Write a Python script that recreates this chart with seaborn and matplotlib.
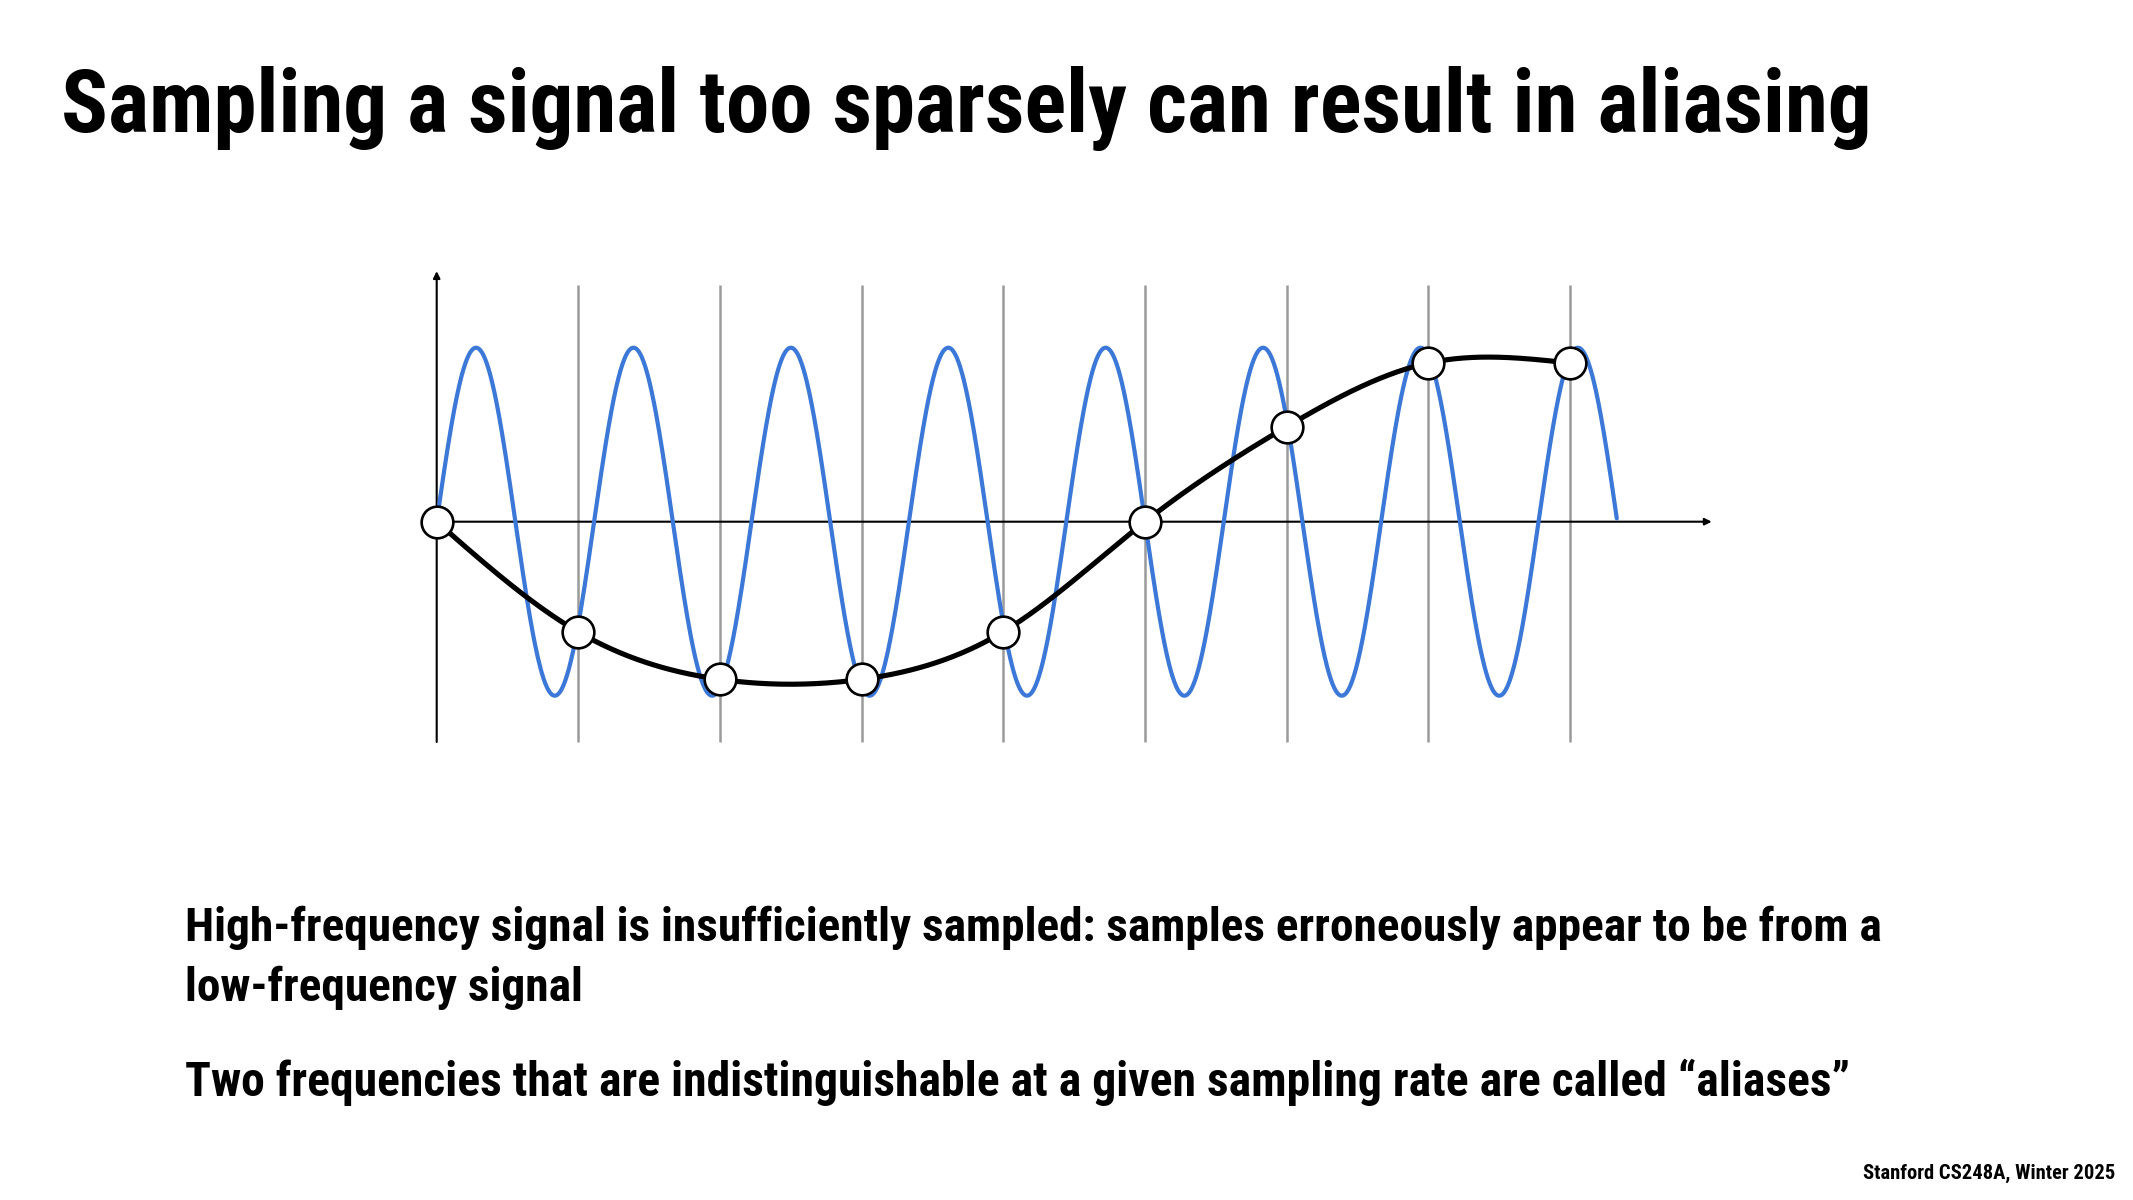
import numpy as np
import pandas as pd
import matplotlib
matplotlib.use("Agg")
import matplotlib.pyplot as plt
import seaborn as sns
from matplotlib import font_manager

# ---------------- data ----------------
TITLE = "Sampling a signal too sparsely can result in aliasing"
BODY_LINE_1 = "High-frequency signal is insufficiently sampled: samples erroneously appear to be from a"
BODY_LINE_2 = "low-frequency signal"
BODY_LINE_3 = "Two frequencies that are indistinguishable at a given sampling rate are called \u201caliases\u201d"
FOOTER = "Stanford CS248A, Winter 2025"

sample_index = [0, 1, 2, 3, 4, 5, 6, 7, 8]
sample_value = [0.0, -0.634, -0.906, -0.906, -0.632, 0.0, 0.546, 0.912, 0.912]

blue_cycles_per_sample = 0.9   # high-frequency signal: 7.5 cycles over the plotted span
blue_amplitude = 1.0
blue_end = 8.33

# ---------------- style ----------------
sns.set_theme(style="white")
available = {f.name for f in font_manager.fontManager.ttflist}
FONT = "DejaVu Sans"
for cand in ["Liberation Sans Narrow", "Roboto Condensed", "Open Sans Condensed", "DejaVu Sans"]:
    if cand in available:
        FONT = cand
        break
plt.rcParams["font.family"] = [FONT, "DejaVu Sans"]

W, H = 2133, 1200
fig = plt.figure(figsize=(W / 100, H / 100), dpi=100)
fig.patch.set_facecolor("white")

ax = fig.add_axes([394.2 / W, 1 - 765.3 / H, 1360 / W, 513.3 / H])

BLUE = "#3B78D8"

# gray sampling lines
for i in sample_index[1:]:
    ax.plot([i, i], [-1.266, 1.36], color="#9a9a9a", lw=1.8, zorder=1, solid_capstyle="butt")

# axes with arrows
ax.annotate("", xy=(0, 1.44), xytext=(0, -1.266),
            arrowprops=dict(arrowstyle="-|>", lw=1.5, color="black", mutation_scale=10,
                            shrinkA=0, shrinkB=0), zorder=2)
ax.annotate("", xy=(9.0, 0), xytext=(0, 0),
            arrowprops=dict(arrowstyle="-|>", lw=1.5, color="black", mutation_scale=10,
                            shrinkA=0, shrinkB=0), zorder=2)

# high-frequency signal
xs = np.linspace(0, blue_end, 2000)
blue_df = pd.DataFrame({"x": xs, "y": blue_amplitude * np.sin(2 * np.pi * blue_cycles_per_sample * xs)})
sns.lineplot(data=blue_df, x="x", y="y", ax=ax, color=BLUE, lw=3.0, estimator=None, sort=False, zorder=3)


def natural_spline(x, y, xq):
    x = np.asarray(x, float)
    y = np.asarray(y, float)
    n = len(x)
    h = np.diff(x)
    A = np.zeros((n, n))
    r = np.zeros(n)
    A[0, 0] = 1
    A[-1, -1] = 1
    for i in range(1, n - 1):
        A[i, i - 1] = h[i - 1]
        A[i, i] = 2 * (h[i - 1] + h[i])
        A[i, i + 1] = h[i]
        r[i] = 3 * ((y[i + 1] - y[i]) / h[i] - (y[i] - y[i - 1]) / h[i - 1])
    c = np.linalg.solve(A, r)
    b = np.diff(y) / h - h * (2 * c[:-1] + c[1:]) / 3
    d = np.diff(c) / (3 * h)
    idx = np.clip(np.searchsorted(x, xq) - 1, 0, n - 2)
    dx = xq - x[idx]
    return y[idx] + b[idx] * dx + c[idx] * dx ** 2 + d[idx] * dx ** 3


xb = np.linspace(sample_index[0], sample_index[-1], 800)
black_df = pd.DataFrame({"x": xb, "y": natural_spline(sample_index, sample_value, xb)})
sns.lineplot(data=black_df, x="x", y="y", ax=ax, color="black", lw=3.7, estimator=None, sort=False, zorder=4)

samples_df = pd.DataFrame({"x": sample_index, "y": sample_value})
sns.scatterplot(data=samples_df, x="x", y="y", ax=ax, s=520, color="white",
                edgecolor="black", linewidth=1.9, zorder=5)
ax.set_xlim(-0.3, 9.3)
ax.set_ylim(-1.4, 1.55)
ax.axis("off")

# ---------------- text ----------------
def place(text, x_left, baseline, width, size, ha="left"):
    t = fig.text(x_left / W, 1 - baseline / H, text, fontsize=size, fontweight="heavy",
                 fontstretch="condensed", ha=ha, va="baseline", color="black")
    return t, width


texts = [
    place(TITLE, 61, 132, 1812, 70),
    place(BODY_LINE_1, 185, 941, 1702, 38),
    place(BODY_LINE_2, 185, 1001, None, 38),
    place(BODY_LINE_3, 185, 1096, 1665, 38),
    place(FOOTER, 2115, 1179, 252, 14, ha="right"),
]

for _ in range(3):
    fig.canvas.draw()
    r = fig.canvas.get_renderer()
    for t, w in texts:
        if w is None:
            continue
        bb = t.get_window_extent(r)
        t.set_fontsize(t.get_fontsize() * w / bb.width)
# body line 2 uses the same size as line 1
texts[2][0].set_fontsize(texts[1][0].get_fontsize())

fig.savefig("out.png", dpi=100, facecolor="white")
